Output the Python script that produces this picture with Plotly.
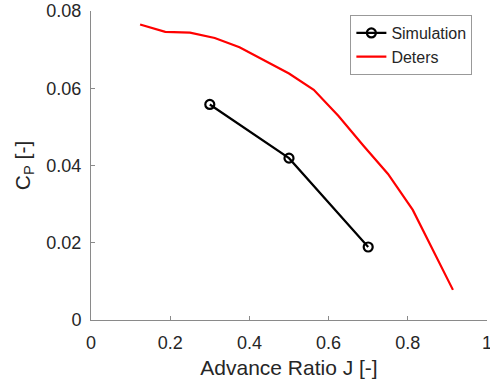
import plotly.graph_objects as go

sim_j = [0.3, 0.5, 0.7]
sim_cp = [0.0558, 0.0419, 0.0189]

deters_j = [0.124, 0.1875, 0.25, 0.3125, 0.375, 0.4375, 0.5, 0.5625, 0.625, 0.6875, 0.75, 0.8125, 0.914]
deters_cp = [0.0765, 0.0746, 0.0744, 0.0730, 0.0706, 0.0672, 0.0638, 0.0596, 0.0528, 0.0452, 0.0378, 0.0285, 0.0078]

x_ticks = [0, 0.2, 0.4, 0.6, 0.8, 1]
x_tick_labels = ["0", "0.2", "0.4", "0.6", "0.8", "1"]
y_ticks = [0, 0.02, 0.04, 0.06, 0.08]
y_tick_labels = ["0", "0.02", "0.04", "0.06", "0.08"]

fig = go.Figure()
fig.add_trace(go.Scatter(
    x=sim_j, y=sim_cp, mode="lines+markers", name="Simulation",
    line=dict(color="black", width=2.2),
    marker=dict(symbol="circle-open", size=9, color="black", line=dict(width=2.2)),
))
fig.add_trace(go.Scatter(
    x=deters_j, y=deters_cp, mode="lines", name="Deters",
    line=dict(color="red", width=2.2),
))

font = "Liberation Sans, Arial, sans-serif"
fig.update_layout(
    width=490, height=385,
    margin=dict(l=91, r=3, t=11, b=65),
    paper_bgcolor="white", plot_bgcolor="white",
    font=dict(family=font, color="#262626"),
    showlegend=True,
    legend=dict(
        x=0.655, y=0.987, xanchor="left", yanchor="top",
        bgcolor="white", bordercolor="#999999", borderwidth=1,
        font=dict(family=font, size=16, color="#262626"),
        tracegroupgap=0, itemwidth=30,
    ),
)
fig.update_xaxes(
    range=[0, 1], tickvals=x_ticks, ticktext=x_tick_labels, automargin=False,
    showgrid=False, zeroline=False, showline=True, linecolor="#8a8a8a", linewidth=1,
    ticks="inside", ticklen=4, tickcolor="#8a8a8a", ticklabelstandoff=6,
    ticklabeloverflow="allow",
    tickfont=dict(size=18, color="#262626"),
    title=dict(text="Advance Ratio J [-]", font=dict(size=21, color="#262626"), standoff=8),
)
fig.update_yaxes(
    range=[0, 0.08], tickvals=y_ticks, ticktext=y_tick_labels, automargin=False,
    showgrid=False, zeroline=False, showline=True, linecolor="#8a8a8a", linewidth=1,
    ticks="inside", ticklen=4, tickcolor="#8a8a8a", ticklabelstandoff=5,
    ticklabeloverflow="allow",
    tickfont=dict(size=18, color="#262626"),
    title=dict(text="C<sub>P</sub> [-]", font=dict(size=21, color="#262626"), standoff=10),
)

fig.write_html("out.html", config={"displayModeBar": False},
               post_script="document.body.style.margin='0';")
